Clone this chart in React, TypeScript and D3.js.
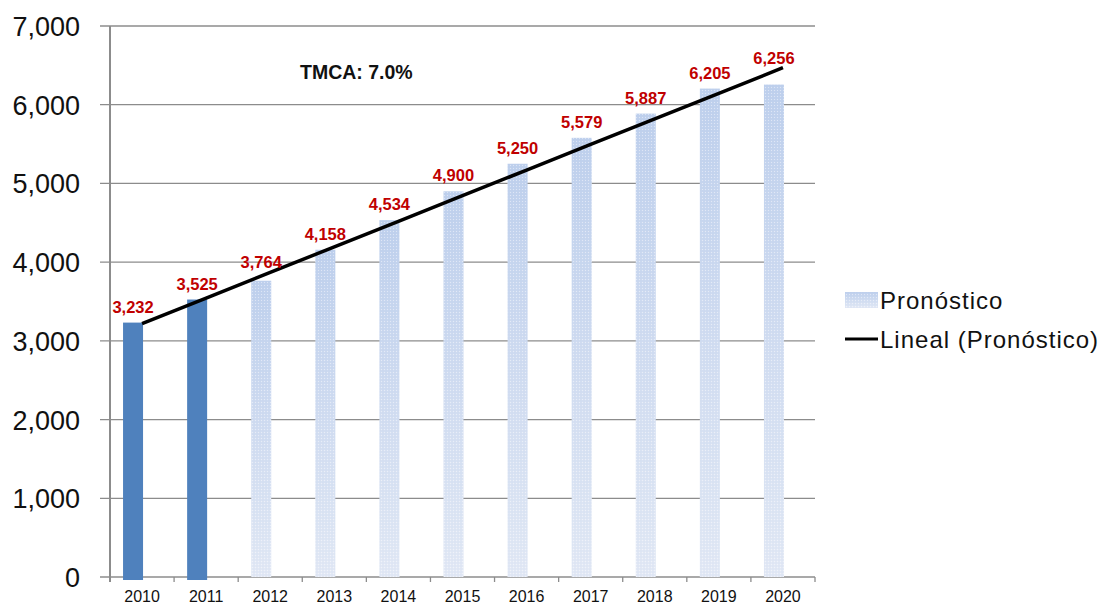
import React from "react";
import * as d3 from "d3";

const years = ["2010", "2011", "2012", "2013", "2014", "2015", "2016", "2017", "2018", "2019", "2020"];
const values = [3232, 3525, 3764, 4158, 4534, 4900, 5250, 5579, 5887, 6205, 6256];
const historicCount = 2; // first two bars are real data (solid blue)
const yTicks = [0, 1000, 2000, 3000, 4000, 5000, 6000, 7000];
const tmcaLabel = "TMCA: 7.0%";
const legendBars = "Pronóstico";
const legendLine = "Lineal (Pronóstico)";

const W = 1116;
const H = 605;
const plot = { left: 110, right: 815, top: 26, bottom: 577 };

export default function App() {
  const x = d3.scaleBand().domain(years).range([plot.left, plot.right]).padding(0);
  const y = d3.scaleLinear().domain([0, 7000]).range([plot.bottom, plot.top]);
  const fmt = d3.format(",");

  const barW = 20;
  const barShift = -9; // bars sit a bit left of the category centre
  const cx = (yr: string) => (x(yr) ?? 0) + x.bandwidth() / 2;

  // least squares trend over the index
  const idx = values.map((_, i) => i);
  const mx = d3.mean(idx) as number;
  const my = d3.mean(values) as number;
  const slope =
    d3.sum(idx, (i) => (i - mx) * (values[i] - my)) / d3.sum(idx, (i) => (i - mx) * (i - mx));
  const trend = (i: number) => my + slope * (i - mx);

  const line = d3
    .line<number>()
    .x((i) => cx(years[i]))
    .y((i) => y(trend(i)));

  const grid = "#8c8c8c";

  return (
    <svg
      width={W}
      height={H}
      style={{ position: "absolute", left: 0, top: 0, background: "#fff" }}
      fontFamily="'Liberation Sans', Arial, sans-serif"
    >
      <defs>
        <linearGradient id="fc" x1="0" y1="0" x2="0" y2="1">
          <stop offset="0" stopColor="#bfd0ed" />
          <stop offset="1" stopColor="#e3e9f5" />
        </linearGradient>
        <pattern id="dots" width="3" height="3" patternUnits="userSpaceOnUse">
          <rect width="1" height="1" fill="#ffffff" fillOpacity="0.45" />
          <rect x="1.5" y="1.5" width="1" height="1" fill="#9fb5dc" fillOpacity="0.25" />
        </pattern>
      </defs>

      {/* gridlines */}
      {yTicks.map((t) => (
        <line key={t} x1={plot.left - 10} x2={plot.right} y1={y(t)} y2={y(t)} stroke={grid} strokeWidth={1.3} />
      ))}

      {/* bars */}
      {values.map((v, i) => {
        const bx = cx(years[i]) + barShift - barW / 2;
        if (i < historicCount) {
          return (
            <rect key={i} x={bx} y={y(v)} width={barW} height={y(0) - y(v) + 3} fill="#4f81bd" />
          );
        }
        return (
          <g key={i}>
            <rect x={bx} y={y(v)} width={barW} height={y(0) - y(v)} fill="url(#fc)" />
            <rect x={bx} y={y(v)} width={barW} height={y(0) - y(v)} fill="url(#dots)" />
          </g>
        );
      })}

      {/* axes */}
      <line x1={plot.left} x2={plot.left} y1={plot.top} y2={plot.bottom + 5} stroke={grid} strokeWidth={2} />
      {years.map((yr) => (
        <line key={yr} x1={x(yr)} x2={x(yr)} y1={plot.bottom} y2={plot.bottom + 5} stroke={grid} strokeWidth={1.3} />
      ))}
      <line x1={plot.right} x2={plot.right} y1={plot.bottom} y2={plot.bottom + 5} stroke={grid} strokeWidth={1.3} />

      {yTicks.map((t) => (
        <text key={t} x={80} y={y(t) + 10} textAnchor="end" fontSize={27} fill="#111">
          {fmt(t)}
        </text>
      ))}
      {years.map((yr) => (
        <text key={yr} x={cx(yr)} y={602} textAnchor="middle" fontSize={16} fill="#111">
          {yr}
        </text>
      ))}

      {/* trend line */}
      <path d={line(idx) ?? ""} fill="none" stroke="#000" strokeWidth={3.5} />

      {/* data labels, lifted clear of the trend line */}
      {values.map((v, i) => {
        const ly = Math.min(y(v) - 10, y(trend(i)) - 4);
        return (
          <text
            key={i}
            x={cx(years[i]) + barShift}
            y={ly}
            textAnchor="middle"
            fontSize={16.5}
            fontWeight="bold"
            fill="#c00000"
          >
            {fmt(v)}
          </text>
        );
      })}

      <text x={300} y={79} fontSize={19.5} fontWeight="bold" fill="#111">
        {tmcaLabel}
      </text>

      {/* legend */}
      <rect x={845} y={292} width={33} height={16} fill="url(#fc)" />
      <rect x={845} y={292} width={33} height={16} fill="url(#dots)" />
      <text x={880} y={309} fontSize={24} letterSpacing={1} fill="#111">
        {legendBars}
      </text>
      <line x1={845} x2={878} y1={339} y2={339} stroke="#000" strokeWidth={3} />
      <text x={880} y={348} fontSize={24} letterSpacing={1} fill="#111">
        {legendLine}
      </text>
    </svg>
  );
}
